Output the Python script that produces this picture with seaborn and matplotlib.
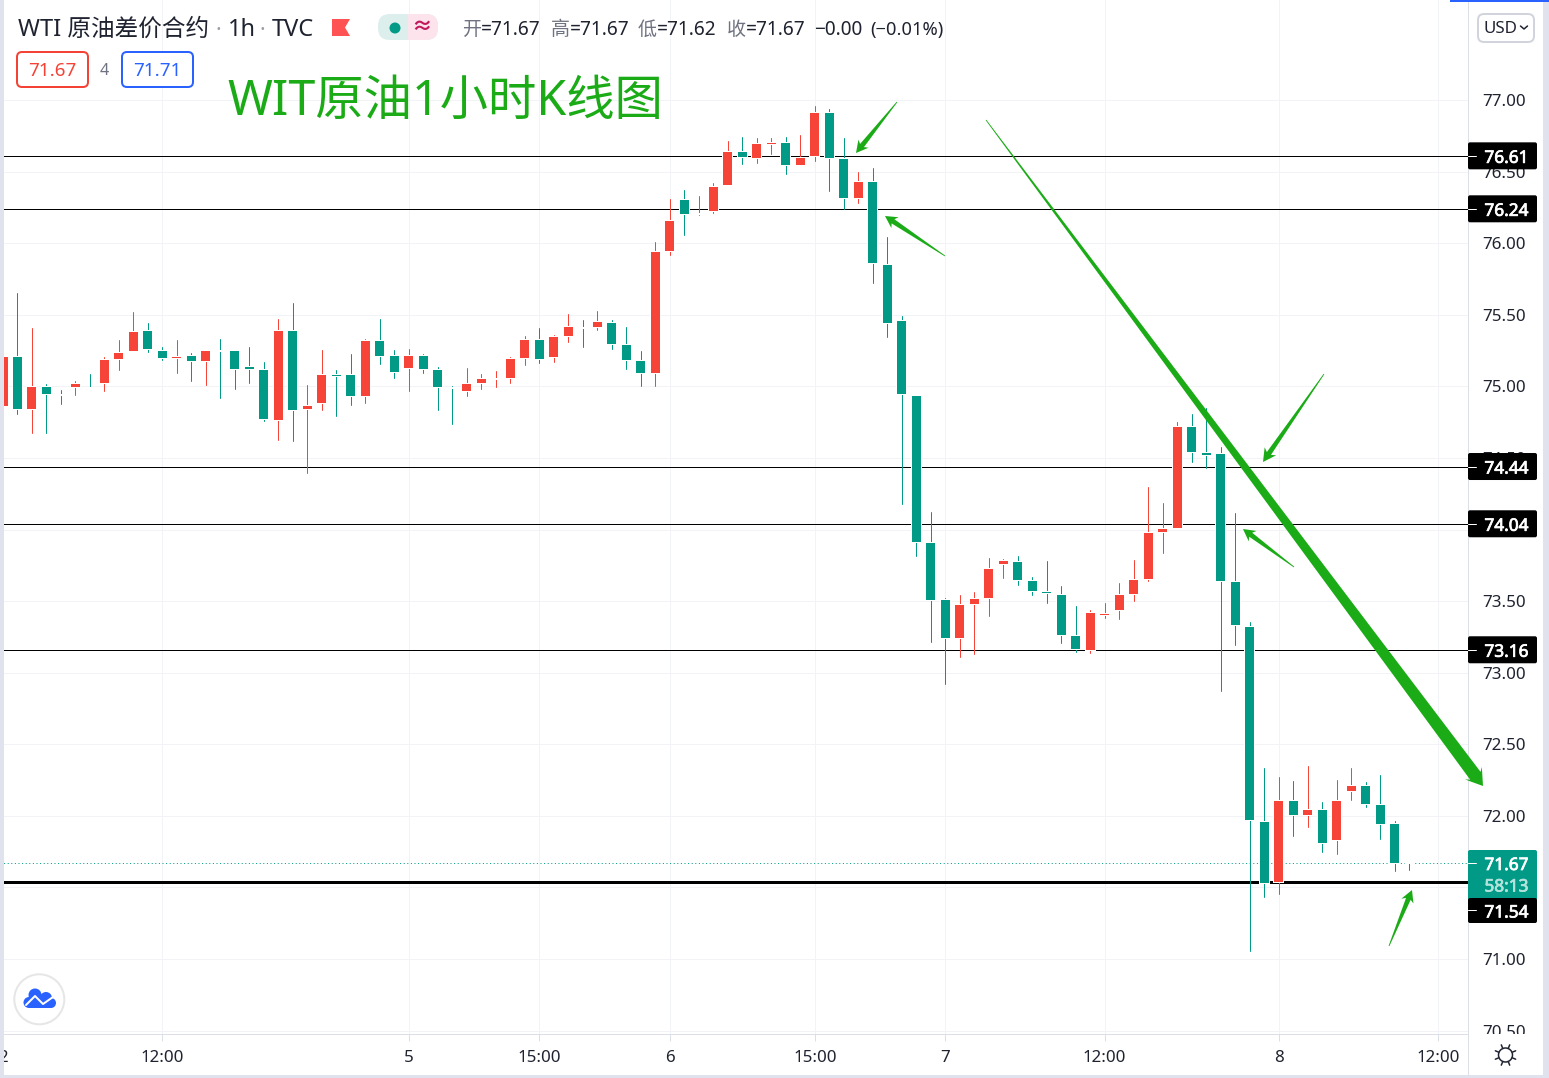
import numpy as np
import pandas as pd
import seaborn as sns
import matplotlib
matplotlib.use("Agg")
import matplotlib.pyplot as plt
import matplotlib.patheffects as pe
from matplotlib.patches import FancyBboxPatch, Rectangle, Polygon, Circle
from matplotlib.transforms import Bbox

# Hourly WTI candles
opens = [74.86,75.205,74.842,74.995,74.94,74.995,74.99,75.023,75.191,75.247,75.386,75.247,75.198,75.212,75.177,75.25,75.247,75.135,75.114,74.765,
         75.386,74.842,74.883,75.079,75.079,74.932,75.317,75.212,75.128,75.212,75.114,74.985,74.967,75.023,75.05,75.058,75.198,75.324,75.205,75.352,
         75.41,75.414,75.442,75.288,75.177,75.093,75.945,76.302,76.205,76.225,76.407,76.637,76.595,76.693,76.70,76.546,76.609,76.909,76.588,76.316,
         76.427,75.848,75.456,74.932,73.905,73.507,73.242,73.479,73.521,73.759,73.773,73.639,73.563,73.542,73.255,73.158,73.40,73.437,73.549,73.654,
         73.982,74.01,74.716,74.534,74.527,73.633,73.318,71.955,71.536,72.102,72.004,72.04,71.83,72.172,72.207,72.074,71.941,71.67]
highs = [75.205,75.652,75.407,75.016,74.974,75.037,75.086,75.205,75.324,75.519,75.442,75.275,75.324,75.233,75.247,75.331,75.247,75.275,75.17,75.47,
         75.582,75.009,75.254,75.114,75.226,75.331,75.47,75.254,75.261,75.226,75.135,75.002,75.128,75.086,75.107,75.205,75.352,75.407,75.359,75.505,
         75.463,75.526,75.463,75.414,75.247,76.008,76.309,76.372,76.33,76.421,76.714,76.742,76.735,76.735,76.742,76.756,76.958,76.937,76.735,76.497,
         76.525,76.043,75.491,74.932,74.122,73.521,73.542,73.563,73.80,73.794,73.814,73.667,73.78,73.605,73.465,73.437,73.486,73.626,73.787,74.297,
         74.185,74.751,74.807,74.849,74.576,74.115,73.353,72.333,72.27,72.242,72.347,72.095,72.25,72.333,72.235,72.284,71.963,71.67]
lows = [74.86,74.807,74.674,74.674,74.877,74.94,74.988,74.967,75.114,75.247,75.24,75.184,75.093,75.037,75.009,74.918,74.981,75.023,74.758,74.625,
        74.618,74.395,74.835,74.793,74.869,74.883,75.156,75.058,74.967,75.093,74.835,74.737,74.932,74.981,74.995,75.023,75.149,75.163,75.17,75.31,
        75.275,75.393,75.261,75.121,75.002,75.002,75.917,76.057,76.197,76.211,76.407,76.553,76.56,76.623,76.483,76.546,76.574,76.364,76.239,76.281,
        75.722,75.345,74.178,73.814,73.214,72.92,73.109,73.13,73.395,73.66,73.612,73.542,73.486,73.207,73.144,73.137,73.381,73.374,73.50,73.64,
        73.835,74.01,74.47,74.429,72.871,73.193,71.054,71.431,71.452,71.858,71.921,71.747,71.733,72.11,72.06,71.837,71.613,71.62]
closes = [75.205,74.842,74.995,74.946,74.94,75.016,74.99,75.184,75.233,75.379,75.261,75.198,75.205,75.177,75.247,75.25,75.121,75.121,74.772,75.386,
          74.835,74.863,75.079,75.072,74.932,75.317,75.212,75.10,75.212,75.121,74.995,74.985,75.016,75.051,75.051,75.191,75.324,75.191,75.345,75.414,
          75.41,75.449,75.295,75.184,75.093,75.938,76.155,76.204,76.206,76.393,76.637,76.602,76.693,76.70,76.546,76.595,76.909,76.595,76.316,76.427,
          75.861,75.442,74.946,73.912,73.507,73.242,73.472,73.514,73.723,73.78,73.647,73.57,73.556,73.262,73.165,73.416,73.41,73.542,73.647,73.975,
          74.003,74.716,74.541,74.52,73.64,73.332,71.969,71.529,72.102,72.004,72.04,71.81,72.102,72.207,72.081,71.941,71.669,71.67]

# Time axis and price axis
time_pos = [0, 11, 28, 37, 46, 56, 65, 76, 88, 99]
time_labels = ["2", "12:00", "5", "15:00", "6", "15:00", "7", "12:00", "8", "12:00"]
price_ticks = [70.5, 71.0, 71.5, 72.0, 72.5, 73.0, 73.5, 74.0, 74.5, 75.0, 75.5, 76.0, 76.5, 77.0]
price_tick_text = ["70.50", "71.00", "", "72.00", "72.50", "73.00", "73.50", "", "74.50", "75.00", "75.50", "76.00", "76.50", "77.00"]

# Horizontal levels
levels = [76.61, 76.24, 74.44, 74.04, 73.16]
support = 71.54
last_price = 71.67
last_label = "71.67"
countdown = "58:13"

RED = "#f74438"
TEAL = "#009a87"
GREEN = "#1bab17"
GRID = "#f1f3f6"
AXIS = "#dcdfe6"
INK = "#1f2330"
STRIP = "#e0e3ee"

W, H = 1549, 1078
PX = 72 / 100

# Bar pitch and vertical scale on the canvas
BAR_PX = 14.495
BAR_X0 = 3.0
PRICE_PX = 143.17
PANE_R, PANE_B = 1468, 1034

sns.set_theme(style="white")
plt.rcParams["font.family"] = ["Noto Sans", "Noto Sans CJK SC", "DejaVu Sans"]

fig = plt.figure(figsize=(W / 100, H / 100), dpi=100, facecolor="white")
ax = fig.add_axes([0, (H - PANE_B) / H, PANE_R / W, PANE_B / H])
ax.set_xlim((0 - BAR_X0) / BAR_PX, (PANE_R - BAR_X0) / BAR_PX)
ax.set_ylim(77 - (PANE_B - 100) / PRICE_PX, 77 + 100 / PRICE_PX)

# Candles: wicks through seaborn, bodies as floating bars with a white halo
frame = pd.DataFrame({"i": np.arange(len(opens)), "open": opens, "high": highs, "low": lows, "close": closes})
frame["side"] = np.where(frame["close"] > frame["open"], "up", "down")
wicks = frame.melt(id_vars=["i", "side"], value_vars=["high", "low"], value_name="price")
sns.lineplot(data=wicks, x="i", y="price", units="i", hue="side", estimator=None, sort=False,
             palette={"up": RED, "down": TEAL}, linewidth=1 * PX, legend=False, ax=ax, zorder=2)

top = frame[["open", "close"]].max(axis=1)
bot = frame[["open", "close"]].min(axis=1)
body_w = 9 / BAR_PX
ax.bar(frame["i"], top - bot, bottom=bot, width=body_w, color="white", edgecolor="white",
       linewidth=2 * PX, zorder=3)
ax.bar(frame["i"], top - bot, bottom=bot, width=body_w, linewidth=0, zorder=4,
       color=[RED if s == "up" else TEAL for s in frame["side"]])

# Levels and last-price line
for lv in levels:
    ax.axhline(lv, color="black", lw=1 * PX, zorder=1.5)
ax.axhline(support, color="black", lw=3 * PX, zorder=1.5)
ax.axhline(last_price, color=TEAL, lw=1 * PX, ls=(0, (1, 2.6)), zorder=1.6)

# Axes furniture
ax.yaxis.tick_right()
ax.set_yticks(price_ticks)
ax.set_yticklabels(price_tick_text)
ax.set_xticks(time_pos)
ax.set_xticklabels(time_labels)
ax.set_xlabel("")
ax.set_ylabel("")
ax.grid(True, color=GRID, lw=1 * PX)
ax.set_axisbelow(True)
ax.tick_params(axis="y", which="both", left=False, right=True, labelleft=False, labelright=True,
               length=7 * PX, width=1 * PX, color=AXIS, labelsize=12.2, labelcolor=INK, pad=7.5 * PX)
ax.tick_params(axis="x", which="both", bottom=True, length=7 * PX, width=1 * PX, color=AXIS,
               labelsize=12.2, labelcolor=INK, pad=9 * PX)
sns.despine(ax=ax, top=True, left=True, right=False, bottom=False)
for side in ("right", "bottom"):
    ax.spines[side].set_color(AXIS)
    ax.spines[side].set_linewidth(1 * PX)
pane_clip = Bbox([[0, H - PANE_B], [W, H]])
for tick_text in ax.get_yticklabels():
    tick_text.set_clip_box(pane_clip)
    tick_text.set_clip_on(True)

# Overlay in canvas pixels for the header, badges and drawn annotations
ov = fig.add_axes([0, 0, 1, 1], zorder=5)
ov.set_xlim(0, W)
ov.set_ylim(H, 0)
ov.axis("off")
ov.patch.set_alpha(0)


def rbox(x0, y0, x1, y1, r, **kw):
    patch = FancyBboxPatch((x0 + r, y0 + r), x1 - x0 - 2 * r, y1 - y0 - 2 * r,
                           boxstyle=f"round,pad={r},rounding_size={r}", **kw)
    ov.add_patch(patch)
    return patch


def label(x, y, s, size, color=INK, ha="left", **kw):
    return ov.text(x, y, s, fontsize=size, color=color, ha=ha, va="center", **kw)


def tag(x, y, s, color="white"):
    text = label(x, y, s, 12.4, color=color, ha="center")
    text.set_path_effects([pe.withStroke(linewidth=0.55, foreground=color)])


def arrow(tail, tip, shaft, head_w, head_l):
    tail, tip = np.array(tail, float), np.array(tip, float)
    u = (tip - tail) / np.linalg.norm(tip - tail)
    n = np.array([-u[1], u[0]])
    base = tip - u * head_l
    neck = tip - u * head_l * 0.8
    pts = [tail + n * 0.4, neck + n * shaft / 2, base + n * head_w / 2, tip,
           base - n * head_w / 2, neck - n * shaft / 2, tail - n * 0.4]
    ov.add_patch(Polygon(pts, closed=True, fc=GREEN, ec="none"))


# Page edges
ov.add_patch(Rectangle((0, 0), 4, H, fc=STRIP, ec="none"))
ov.add_patch(Rectangle((1543, 0), 6, H, fc=STRIP, ec="none"))
ov.add_patch(Rectangle((0, 1075), W, 3, fc=STRIP, ec="none"))
ov.add_patch(Rectangle((1450, 0), 99, 1.5, fc="#2962ff", ec="none"))
ov.plot([PANE_R, PANE_R], [PANE_B, 1075], color=AXIS, lw=1 * PX)

# Symbol header
label(18, 30, "WTI 原油差价合约", 17, color=INK)
label(218, 31, "·", 15, color="#9a9da6", ha="center")
label(228, 30, "1h", 17, color=INK)
label(262, 31, "·", 15, color="#9a9da6", ha="center")
label(272, 30, "TVC", 17, color=INK)
ov.add_patch(Polygon([(332, 19), (350, 19), (345, 27.5), (350, 36), (332, 36)], closed=True, fc="#ff5252", ec="none"))

# Status pill
pill_l = rbox(378, 14, 438, 40, 12, fc="#dcefec", ec="none")
pill_r = rbox(378, 14, 438, 40, 12, fc="#fce3ec", ec="none")
pill_r.set_clip_path(Rectangle((408, 0), 40, 60, transform=ov.transData))
ov.add_patch(Circle((395, 28), 5.5, fc=TEAL, ec="none"))
label(422, 28, "≈", 15, color="#c2185b", ha="center", fontweight="bold")

# OHLC readout
GREY = "#6f7280"
for x, lab, val in [(462, "开", "=71.67"), (551, "高", "=71.67"), (638, "低", "=71.62"), (727, "收", "=71.67")]:
    label(x, 30, lab, 13.7, color=GREY)
    label(x + 19, 30, val, 13.7, color=INK)
label(814, 30, "−0.00", 13.7, color=INK)
label(870, 30, "(−0.01%)", 13.2, color=INK)

# Bid / ask badges
rbox(17, 52, 88, 87, 5, fc="white", ec="#f44336", lw=2 * PX)
label(52, 71, "71.67", 13.5, color="#f44336", ha="center")
label(104, 71, "4", 11.5, color="#6f7280", ha="center")
rbox(122, 52, 193, 87, 5, fc="white", ec="#2962ff", lw=2 * PX)
label(157, 71, "71.71", 13.5, color="#2962ff", ha="center")

# Chart heading
label(227, 102, "WIT原油1小时K线图", 34.8, color=GREEN)

# Currency selector
rbox(1478, 14, 1534, 42, 6, fc="white", ec="#d1d4dc", lw=2 * PX)
label(1484, 29, "USD", 12.2, color=INK)
ov.plot([1520.5, 1524, 1527.5], [26, 29, 26], color=INK, lw=1.5 * PX)

# Level tags on the price scale
for lv in levels:
    yc = 100 + (77 - lv) * PRICE_PX
    rbox(1468, yc - 13.5, 1537, yc + 13.5, 2, fc="black", ec="none")
    ov.plot([1468, 1476], [yc, yc], color="white", lw=1 * PX)
    tag(1506.5, yc + 2, f"{lv:.2f}")

rbox(1468, 850, 1537, 900, 2, fc=TEAL, ec="none")
ov.plot([1468, 1476], [863, 863], color="white", lw=1 * PX)
tag(1506.5, 865, last_label)
tag(1506.5, 886.5, countdown, color="#b4e3dc")
rbox(1468, 898, 1537, 923, 2, fc="black", ec="none")
ov.plot([1468, 1476], [910, 910], color="white", lw=1 * PX)
tag(1506.5, 912.5, f"{support:.2f}")

# Hand-drawn arrows
arrow((897, 102), (856, 153), 5, 13, 12)
arrow((945, 256), (885, 216), 5, 13, 12)
arrow((986, 120), (1483, 786), 13, 21, 16)
arrow((1324, 374), (1263, 462), 5, 14, 13)
arrow((1294, 567), (1243, 529), 5, 13, 12)
arrow((1389, 946), (1412, 890), 5, 13, 12)

# Logo badge
ov.add_patch(Circle((39.3, 999.3), 25, fc="white", ec="#e6e6e6", lw=2 * PX))
BLUE = "#2962ff"
for cx, cy, r in [(29, 1002.5, 5.5), (35, 995, 6.5), (46, 998, 6), (51, 1003, 5)]:
    ov.add_patch(Circle((cx, cy), r, fc=BLUE, ec="none"))
ov.add_patch(Rectangle((29, 999), 22, 9, fc=BLUE, ec="none"))
ov.plot([26, 35, 43, 53], [1005, 996, 1004, 997], color="white", lw=2 * PX, solid_capstyle="round")

# Scale settings glyph
ov.add_patch(Circle((1505.5, 1055), 7, fc="white", ec=INK, lw=1.5 * PX))
for a in np.deg2rad(np.arange(0, 360, 45) + 22.5):
    ov.plot([1505.5 + 7.5 * np.cos(a), 1505.5 + 11 * np.cos(a)],
            [1055 + 7.5 * np.sin(a), 1055 + 11 * np.sin(a)], color=INK, lw=1.5 * PX)

fig.savefig("out.png", dpi=100, facecolor="white")
